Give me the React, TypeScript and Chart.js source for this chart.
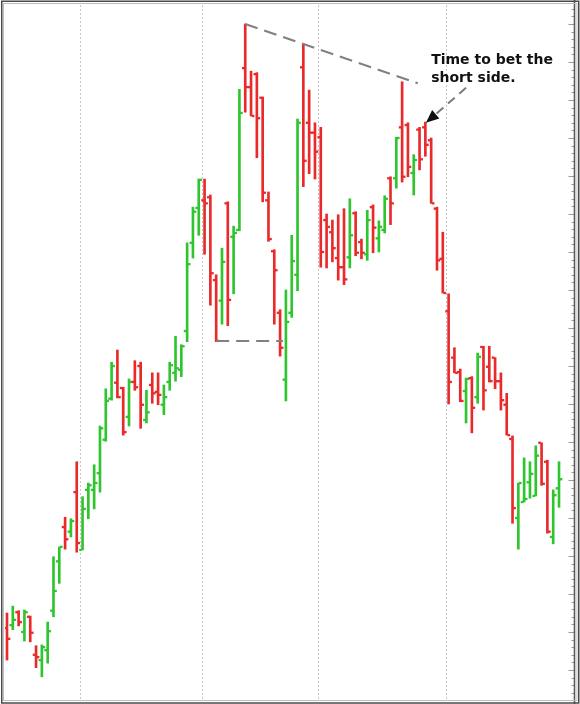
import React, { useEffect, useRef } from "react";
import { Chart, registerables } from "chart.js";

Chart.register(...registerables);

// daily OHLC (price units, one bar per session)
const opens = [
  10.5, 10.9, 12.6, 10.0, 12.0, 7.0, 6.3, 7.6, 12.8, 19.3,
  23.8, 23.2, 28.4, 20.8, 28.7, 28.7, 30.9, 35.3, 40.7, 42.8,
  42.1, 38.3, 42.9, 45.0, 37.9, 42.5, 41.6, 39.9, 42.9, 44.1,
  44.5, 49.6, 61.2, 65.8, 66.8, 67.2, 56.3, 53.6, 66.4, 62.0,
  62.9, 84.2, 81.7, 83.4, 80.3, 66.8, 60.1, 52.0, 43.2, 52.0,
  57.0, 84.3, 77.0, 75.7, 75.1, 64.2, 62.6, 59.2, 58.0, 59.3,
  65.1, 61.3, 59.7, 65.9, 61.8, 62.9, 69.7, 69.7, 76.4, 76.7,
  70.4, 76.1, 76.4, 74.7, 65.7, 59.1, 52.2, 46.1, 44.2, 41.7,
  43.4, 40.9, 47.5, 44.9, 46.1, 43.0, 39.9, 35.4, 25.0, 27.1,
  29.7, 27.9, 34.9, 32.4, 22.5, 28.9,
];
const highs = [
  12.5, 13.4, 12.8, 12.9, 12.1, 8.2, 8.3, 11.3, 19.9, 21.2,
  25.1, 24.9, 32.4, 27.8, 29.6, 32.0, 37.1, 42.0, 45.5, 47.1,
  42.2, 43.3, 45.7, 45.5, 41.8, 44.1, 44.1, 42.5, 45.5, 48.9,
  47.8, 61.2, 65.9, 69.6, 69.6, 67.5, 57.0, 60.5, 66.6, 63.4,
  81.4, 90.0, 83.8, 83.6, 80.4, 67.9, 60.3, 52.4, 55.0, 62.2,
  77.5, 87.4, 81.3, 77.0, 76.4, 65.0, 64.2, 64.9, 65.7, 67.0,
  65.3, 61.7, 65.5, 66.2, 64.1, 67.4, 69.9, 75.1, 82.4, 77.0,
  72.8, 76.4, 77.1, 75.0, 65.9, 62.6, 54.5, 47.4, 44.6, 43.4,
  43.6, 46.7, 47.6, 47.6, 46.1, 44.1, 41.4, 35.8, 29.6, 32.9,
  32.4, 34.5, 34.9, 32.6, 28.7, 32.4,
];
const lows = [
  6.3, 10.3, 10.8, 8.8, 8.7, 5.3, 4.1, 5.9, 12.0, 16.4,
  20.9, 22.5, 20.5, 20.8, 24.9, 26.2, 28.4, 35.1, 40.5, 40.8,
  35.9, 37.1, 41.8, 36.8, 37.5, 40.1, 39.9, 38.6, 41.8, 43.0,
  43.6, 48.2, 59.2, 62.2, 59.7, 53.0, 48.2, 50.5, 50.3, 54.5,
  62.8, 78.4, 77.9, 72.4, 66.6, 61.4, 50.5, 46.3, 40.4, 51.4,
  54.9, 68.6, 70.3, 69.6, 58.0, 57.9, 58.7, 56.3, 55.7, 57.9,
  59.5, 59.1, 58.9, 59.9, 60.0, 62.5, 63.6, 68.4, 69.2, 69.9,
  67.5, 70.8, 72.6, 66.4, 57.6, 54.6, 40.0, 44.1, 40.3, 37.5,
  36.2, 40.1, 39.2, 42.9, 42.0, 39.2, 35.9, 24.3, 20.9, 27.1,
  27.6, 27.9, 29.3, 23.0, 21.6, 26.4,
];
const closes = [
  9.1, 11.6, 11.3, 12.6, 9.9, 6.7, 8.0, 10.1, 15.4, 21.2,
  22.2, 24.6, 21.7, 26.2, 29.3, 29.6, 36.8, 40.4, 45.0, 40.9,
  36.3, 42.9, 42.2, 39.9, 38.9, 41.4, 41.2, 40.9, 45.1, 44.7,
  47.6, 58.4, 65.3, 69.5, 66.4, 57.2, 48.3, 58.7, 53.7, 62.5,
  78.3, 81.7, 77.9, 77.6, 67.8, 61.7, 57.6, 47.4, 50.8, 58.8,
  77.0, 72.0, 75.7, 73.2, 60.0, 63.3, 60.5, 58.0, 56.4, 62.2,
  59.9, 59.9, 64.2, 63.2, 63.3, 67.0, 66.4, 75.0, 69.9, 71.2,
  72.1, 72.2, 74.1, 66.4, 58.9, 54.6, 42.9, 44.1, 40.4, 43.3,
  39.5, 46.2, 41.8, 43.0, 43.0, 40.5, 35.9, 26.3, 29.6, 27.5,
  30.8, 33.2, 29.5, 23.2, 28.0, 30.1,
];

// month boundaries for the dotted vertical grid (between sessions)
const monthBreaks = [12.5, 33.5, 53.5, 75.5];

// hand-drawn pattern lines (session index, price)
const topLineX = [41, 70.7];
const topLineY = [90.0, 82.2];
const floorLineX = [36, 47.5];
const floorLineY = [48.3, 48.3];

// note and its arrow
const noteLines = ["Time to bet the", "short side."];
const noteX = 73.0;
const noteY = [84.7, 82.4];
const arrowFrom = [79.0, 81.6];
const arrowTo = [72.1, 77.0];

const UP = "#2ec52e";
const DOWN = "#ea2a2a";
const TICK = 0.11; // half height of the open/close stubs

const decor = {
  id: "decor",
  beforeDatasetsDraw(chart: Chart) {
    const { ctx, chartArea } = chart;
    const xs = chart.scales.x;
    ctx.save();
    ctx.strokeStyle = "#c6c6c6";
    ctx.lineWidth = 1;
    ctx.setLineDash([2, 2]);
    monthBreaks.forEach((v) => {
      const px = Math.round(xs.getPixelForValue(v)) + 0.5;
      ctx.beginPath();
      ctx.moveTo(px, chartArea.top);
      ctx.lineTo(px, chartArea.bottom);
      ctx.stroke();
    });
    ctx.restore();
  },
  afterDraw(chart: Chart) {
    const { ctx, chartArea } = chart;
    const xs = chart.scales.x;
    const ys = chart.scales.y;
    const W = chart.width;
    const H = chart.height;
    ctx.save();

    // price axis on the right, ticks pointing inward
    const ax = chartArea.right + 0.5;
    ctx.strokeStyle = "#9a9a9a";
    ctx.lineWidth = 1;
    for (let v = Math.ceil(ys.min); v <= ys.max; v++) {
      const py = Math.round(ys.getPixelForValue(v)) + 0.5;
      const len = v % 5 === 0 ? 6 : 3;
      ctx.beginPath();
      ctx.moveTo(ax - len, py);
      ctx.lineTo(ax, py);
      ctx.stroke();
    }
    ctx.strokeStyle = "#5a5a5a";
    ctx.lineWidth = 1.6;
    ctx.beginPath();
    ctx.moveTo(ax, 0);
    ctx.lineTo(ax, H);
    ctx.stroke();

    // note
    ctx.fillStyle = "#111";
    ctx.font = "bold 14px 'DejaVu Sans'";
    ctx.textBaseline = "alphabetic";
    noteLines.forEach((t, i) => {
      ctx.fillText(t, xs.getPixelForValue(noteX), ys.getPixelForValue(noteY[i]));
    });

    // arrow
    const x1 = xs.getPixelForValue(arrowFrom[0]);
    const y1 = ys.getPixelForValue(arrowFrom[1]);
    const x2 = xs.getPixelForValue(arrowTo[0]);
    const y2 = ys.getPixelForValue(arrowTo[1]);
    const ang = Math.atan2(y2 - y1, x2 - x1);
    const head = 13;
    ctx.strokeStyle = "#7a7a7a";
    ctx.lineWidth = 2;
    ctx.setLineDash([9, 6]);
    ctx.beginPath();
    ctx.moveTo(x1, y1);
    ctx.lineTo(x2 - head * Math.cos(ang), y2 - head * Math.sin(ang));
    ctx.stroke();
    ctx.setLineDash([]);
    ctx.fillStyle = "#111";
    ctx.beginPath();
    ctx.moveTo(x2, y2);
    ctx.lineTo(
      x2 - head * Math.cos(ang) + 5.5 * Math.sin(ang),
      y2 - head * Math.sin(ang) - 5.5 * Math.cos(ang)
    );
    ctx.lineTo(
      x2 - head * Math.cos(ang) - 5.5 * Math.sin(ang),
      y2 - head * Math.sin(ang) + 5.5 * Math.cos(ang)
    );
    ctx.closePath();
    ctx.fill();

    // picture frame
    ctx.strokeStyle = "#4a4a4a";
    ctx.lineWidth = 1.5;
    ctx.strokeRect(1.75, 1.25, W - 3, H - 2.25);
    ctx.strokeStyle = "#bdbdbd";
    ctx.lineWidth = 1;
    ctx.strokeRect(3.5, 3.5, W - 6.5, H - 7);
    ctx.restore();
  },
};

const App: React.FC = () => {
  const canvasRef = useRef<HTMLCanvasElement | null>(null);
  const chartRef = useRef<Chart | null>(null);

  useEffect(() => {
    document.body.style.margin = "0";
    if (!canvasRef.current) return;
    if (chartRef.current) chartRef.current.destroy();

    const idx = opens.map((_, i) => i);
    const colors = idx.map((i) => (closes[i] >= opens[i] ? UP : DOWN));

    chartRef.current = new Chart(canvasRef.current, {
      type: "bar",
      data: {
        datasets: [
          {
            // open stubs (left of the range line)
            data: idx.map((i) => ({ x: i, y: [opens[i] - TICK, opens[i] + TICK] })),
            backgroundColor: colors,
            barThickness: 2,
            order: 2,
          },
          {
            // high-low range
            data: idx.map((i) => ({ x: i, y: [lows[i], highs[i]] })),
            backgroundColor: colors,
            barThickness: 2,
            order: 2,
          },
          {
            // close stubs (right of the range line)
            data: idx.map((i) => ({ x: i, y: [closes[i] - TICK, closes[i] + TICK] })),
            backgroundColor: colors,
            barThickness: 2,
            order: 2,
          },
          {
            type: "line",
            data: topLineX.map((x, i) => ({ x, y: topLineY[i] })),
            borderColor: "#808080",
            borderWidth: 2,
            borderDash: [13, 7],
            pointRadius: 0,
            order: 1,
          },
          {
            type: "line",
            data: floorLineX.map((x, i) => ({ x, y: floorLineY[i] })),
            borderColor: "#808080",
            borderWidth: 2,
            borderDash: [13, 7],
            pointRadius: 0,
            order: 1,
          },
        ] as any,
      },
      options: {
        animation: false,
        responsive: true,
        maintainAspectRatio: false,
        layout: { padding: { left: 5, right: 6, top: 5, bottom: 4 } },
        plugins: { legend: { display: false }, tooltip: { enabled: false } },
        scales: {
          x: {
            type: "linear",
            min: -0.344,
            max: 97.58,
            offset: false,
            display: false,
          },
          y: {
            type: "linear",
            min: 1.05,
            max: 92.5,
            display: false,
          },
        },
      },
      plugins: [decor as any],
    });

    return () => {
      if (chartRef.current) {
        chartRef.current.destroy();
        chartRef.current = null;
      }
    };
  }, []);

  return (
    <div style={{ position: "relative", width: 580, height: 704, background: "#fff" }}>
      <canvas ref={canvasRef} />
    </div>
  );
};

export default App;
